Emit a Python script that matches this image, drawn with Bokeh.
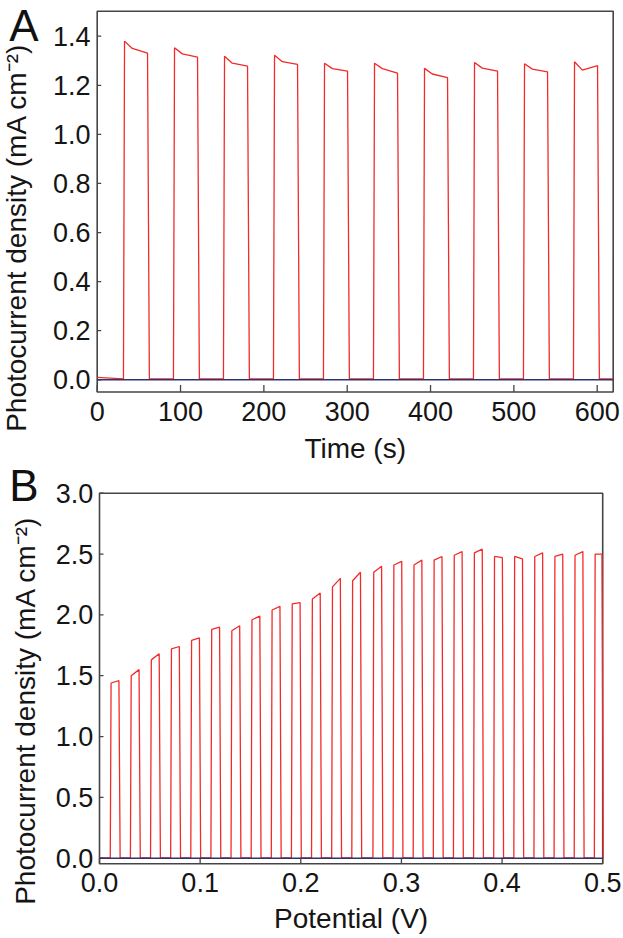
import math
from bokeh.plotting import figure
from bokeh.models import Range1d
from bokeh.core.properties import value
from bokeh.embed import file_html
from bokeh.resources import INLINE

# ---------------- Panel A: chopped photocurrent vs time ----------------
a_light_on = [32, 92, 152, 212, 272, 332, 392, 452, 512, 572]        # s
a_light_off = [61, 121, 181, 241, 301, 361, 421, 481, 541, 601]      # s
a_j_start = [1.380, 1.353, 1.318, 1.322, 1.290, 1.290, 1.269, 1.293, 1.288, 1.296]
a_j_mid = [1.350, 1.328, 1.290, 1.296, 1.268, 1.268, 1.246, 1.270, 1.266, 1.262]
a_j_end = [1.331, 1.315, 1.278, 1.285, 1.258, 1.250, 1.231, 1.258, 1.255, 1.280]
a_dark = [0.0, 0.0]
a_xlim = (0.0, 619.2)
a_ylim = (-0.0497, 1.5019)
a_xticks = [0, 100, 200, 300, 400, 500, 600]
a_yticks = [0.0, 0.2, 0.4, 0.6, 0.8, 1.0, 1.2, 1.4]
a_xlabels = ["0", "100", "200", "300", "400", "500", "600"]
a_ylabels = ["0.0", "0.2", "0.4", "0.6", "0.8", "1.0", "1.2", "1.4"]

# ---------------- Panel B: chopped LSV ----------------
b_light_on = [0.011, 0.031, 0.051, 0.071, 0.091, 0.111, 0.131, 0.151, 0.171,
              0.191, 0.211, 0.231, 0.251, 0.272, 0.292, 0.312, 0.332, 0.352,
              0.372, 0.392, 0.412, 0.432, 0.452, 0.472, 0.492]
b_light_off = [0.020, 0.040, 0.060, 0.080, 0.100, 0.120, 0.140, 0.160, 0.180,
               0.200, 0.220, 0.240, 0.260, 0.281, 0.301, 0.321, 0.341, 0.361,
               0.381, 0.401, 0.421, 0.441, 0.461, 0.481, 0.500]
b_j_start = [1.44, 1.50, 1.63, 1.72, 1.79, 1.88, 1.87, 1.96, 2.04, 2.09, 2.13,
             2.23, 2.28, 2.35, 2.41, 2.41, 2.45, 2.49, 2.51, 2.48, 2.48, 2.48,
             2.48, 2.49, 2.50]
b_j_end = [1.46, 1.55, 1.68, 1.74, 1.81, 1.90, 1.91, 1.99, 2.07, 2.10, 2.18,
           2.30, 2.35, 2.40, 2.44, 2.45, 2.48, 2.52, 2.54, 2.47, 2.46, 2.51,
           2.50, 2.52, 2.50]
b_dark = [0.0, 0.0]
b_xlim = (0.0, 0.5)
b_ylim = (-0.046, 3.0)
b_xticks = [0.0, 0.1, 0.2, 0.3, 0.4, 0.5]
b_yticks = [0.0, 0.5, 1.0, 1.5, 2.0, 2.5, 3.0]
b_xlabels = ["0.0", "0.1", "0.2", "0.3", "0.4", "0.5"]
b_ylabels = ["0.0", "0.5", "1.0", "1.5", "2.0", "2.5", "3.0"]

Y_TITLE = "Photocurrent density (mA cm\u207b\u00b2)"

# ---------------- layout / style ----------------
W, H = 623, 938
FONT = "Liberation Sans"
RED = "#f22a2a"
DARK = "#2c3470"
FRAME = "#454545"
TXT = "#151515"
TICK_PX = 27
LABEL_PX = 28
PANEL_PX = 44


class Mapper:
    """maps a panel's plot box (canvas px) to data coordinates"""

    def __init__(self, box_px, xlim, ylim):
        self.l, self.r, self.t, self.b = box_px
        self.x0, self.x1 = xlim
        self.y0, self.y1 = ylim
        self.sx = (self.r - self.l) / (self.x1 - self.x0)
        self.sy = (self.b - self.t) / (self.y1 - self.y0)

    def x_range(self):
        return Range1d(self.x0 - self.l / self.sx, self.x1 + (W - self.r) / self.sx)

    def y_range(self):
        return Range1d(self.y0 - (H - self.b) / self.sy, self.y1 + self.t / self.sy)

    def x_of(self, cx):
        return self.x0 + (cx - self.l) / self.sx

    def y_of(self, cy):
        return self.y1 - (cy - self.t) / self.sy

    def cx_of(self, x):
        return self.l + (x - self.x0) * self.sx

    def at(self, cx, cy):
        return self.x_of(cx), self.y_of(cy)

    def dx(self, px):
        return px / self.sx

    def dy(self, px):
        return px / self.sy


ma = Mapper((96.7, 612.7, 10.7, 391.5), a_xlim, a_ylim)
mb = Mapper((99.0, 602.2, 492.7, 863.3), b_xlim, b_ylim)


def trace_a():
    xs, ys = [0.0], [0.01]
    for on, off, s, m, e in zip(a_light_on, a_light_off, a_j_start, a_j_mid, a_j_end):
        xs += [on - 0.5, on + 0.8, on + 0.35 * (off - on), off - 0.6, off + 1.6]
        ys += [0.004, s, m, e, 0.004]
    xs.append(a_xlim[1])
    ys.append(0.004)
    return xs, ys


def trace_b():
    xs, ys = [0.0], [0.003]
    for on, off, s, e in zip(b_light_on, b_light_off, b_j_start, b_j_end):
        xs += [on - 0.0003, on + 0.0005, off - 0.0007, off + 0.0005]
        ys += [0.003, s, e, 0.003]
    xs.append(b_xlim[1])
    ys.append(0.003)
    return xs, ys


def text_width(s, px):
    return sum(0.556 if c.isdigit() else 0.278 for c in s) * px


p = figure(width=W, height=H, output_backend="svg", toolbar_location=None,
           x_range=ma.x_range(), y_range=ma.y_range(),
           x_axis_location=None, y_axis_location=None,
           min_border=0, min_border_left=0, min_border_right=0,
           min_border_top=0, min_border_bottom=0)
p.extra_x_ranges = {"b": mb.x_range()}
p.extra_y_ranges = {"b": mb.y_range()}
p.outline_line_color = None
p.background_fill_color = "white"
p.border_fill_color = "white"
for g in p.grid:
    g.visible = False


def draw_panel(m, rn, xlim, ylim, xticks, yticks, xlabels, ylabels, trace, dark,
               xtick_len, ytick_len, ylab_right, xlab_y, xtitle, xtitle_at,
               ytitle_at, letter, letter_at):
    kw = {} if rn is None else dict(x_range_name=rn, y_range_name=rn)
    # plot box
    p.quad(left=[xlim[0]], right=[xlim[1]], bottom=[ylim[0]], top=[ylim[1]],
           fill_color=None, line_color=FRAME, line_width=1.6, **kw)
    # ticks (pointing inwards)
    p.segment(x0=xticks, y0=[ylim[0]] * len(xticks), x1=xticks,
              y1=[ylim[0] + m.dy(xtick_len)] * len(xticks),
              line_color=FRAME, line_width=1.3, **kw)
    p.segment(x0=[xlim[0]] * len(yticks), y0=yticks,
              x1=[xlim[0] + m.dx(ytick_len)] * len(yticks), y1=yticks,
              line_color=FRAME, line_width=1.3, **kw)
    # data
    xs, ys = trace()
    p.line(xs, ys, line_color=RED, line_width=1.3, **kw)
    p.line([xlim[0], xlim[1]], dark, line_color=DARK, line_width=1.4, **kw)
    # tick labels
    tx = []
    for t, lab in zip(xticks, xlabels):
        w = text_width(lab, TICK_PX)
        cx = min(max(m.cx_of(t), w / 2 + 1.5), W - 1.5 - w / 2)
        tx.append(m.x_of(cx))
    ty = m.y_of(xlab_y)
    p.text(x=tx, y=[ty] * len(tx), text=xlabels, text_font=value(FONT),
           text_font_size=value(f"{TICK_PX}px"), text_align="center",
           text_baseline="middle", text_color=TXT, **kw)
    lx = m.x_of(ylab_right)
    p.text(x=[lx] * len(yticks), y=yticks, text=ylabels, text_font=value(FONT),
           text_font_size=value(f"{TICK_PX}px"), text_align="right",
           text_baseline="middle", text_color=TXT, **kw)
    # axis titles
    ax, ay = m.at(*xtitle_at)
    p.text(x=[ax], y=[ay], text=[xtitle], text_font=value(FONT),
           text_font_size=value(f"{LABEL_PX}px"), text_align="center",
           text_baseline="middle", text_color=TXT, **kw)
    yx, yy = m.at(*ytitle_at)
    p.text(x=[yx], y=[yy], text=[Y_TITLE], angle=math.pi / 2, text_font=value(FONT),
           text_font_size=value(f"{LABEL_PX}px"), text_align="center",
           text_baseline="middle", text_color=TXT, **kw)
    # panel letter
    px_, py_ = m.at(*letter_at)
    p.text(x=[px_], y=[py_], text=[letter], text_font=value(FONT),
           text_font_size=value(f"{PANEL_PX}px"), text_align="center",
           text_baseline="middle", text_color="#111111", **kw)


draw_panel(ma, None, a_xlim, a_ylim, a_xticks, a_yticks, a_xlabels, a_ylabels,
           trace_a, a_dark, 7, 4, 90.0, 411.0, "Time (s)", (354.7, 448.0),
           (16.4, 237.0), "A", (23.4, 25.0))
draw_panel(mb, "b", b_xlim, b_ylim, b_xticks, b_yticks, b_xlabels, b_ylabels,
           trace_b, b_dark, 6, 4, 92.7, 881.5, "Potential (V)", (350.6, 918.0),
           (25.0, 710.0), "B", (23.3, 484.5))

open("out.html", "w").write(file_html(p, INLINE))
